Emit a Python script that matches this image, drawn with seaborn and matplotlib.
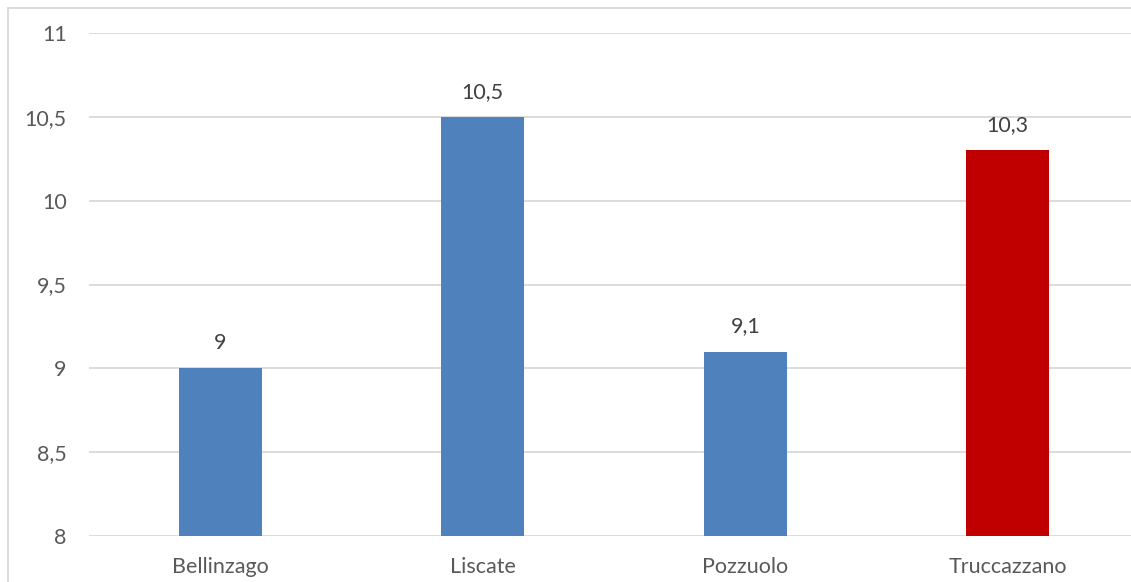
import matplotlib
matplotlib.use("Agg")
import matplotlib.pyplot as plt
from matplotlib.patches import Rectangle
import seaborn as sns
import pandas as pd

comuni = ["Bellinzago", "Liscate", "Pozzuolo", "Truccazzano"]
valori = [9, 10.5, 9.1, 10.3]
colori = ["#4F81BD", "#4F81BD", "#4F81BD", "#C00000"]
y_ticks = [8, 8.5, 9, 9.5, 10, 10.5, 11]

df = pd.DataFrame({"comune": comuni, "valore": valori})

sns.set_style("white")
plt.rcParams["font.family"] = ["Lato", "DejaVu Sans"]


def it_fmt(v):
    s = f"{v:g}"
    return s.replace(".", ",")


fig = plt.figure(figsize=(11.31, 5.82), dpi=100)
ax = fig.add_axes([89 / 1131, 46 / 582, 1050 / 1131, 503 / 582])

sns.barplot(data=df, x="comune", y="valore", hue="comune", palette=colori,
            width=0.317, legend=False, ax=ax, saturation=1, zorder=3,
            linewidth=0)

ax.set_ylim(8, 11)
ax.set_yticks(y_ticks)
ax.set_yticklabels([it_fmt(t) for t in y_ticks])
ax.set_xlim(-0.5, len(comuni) - 0.5)
ax.grid(axis="y", color="#D9D9D9", linewidth=1.3, zorder=0)
ax.set_axisbelow(True)
for s in ax.spines.values():
    s.set_visible(False)
ax.tick_params(axis="both", length=0, colors="#595959", labelsize=15.5)
ax.tick_params(axis="y", pad=16)
ax.tick_params(axis="x", pad=15)
ax.set_xlabel("")
ax.set_ylabel("")

for i, v in enumerate(valori):
    ax.annotate(it_fmt(v), (i, v), xytext=(0, 18), textcoords="offset points",
                ha="center", va="center", fontsize=15.5, color="#404040")

# bordo del grafico (ritagliato a destra e in basso)
fig.patches.append(Rectangle((8 / 1131, -0.1), 1.2, (582 - 8) / 582 + 0.1,
                             transform=fig.transFigure, fill=False,
                             edgecolor="#D9D9D9", linewidth=1.3))

fig.savefig("out.png", dpi=100)
plt.close(fig)
